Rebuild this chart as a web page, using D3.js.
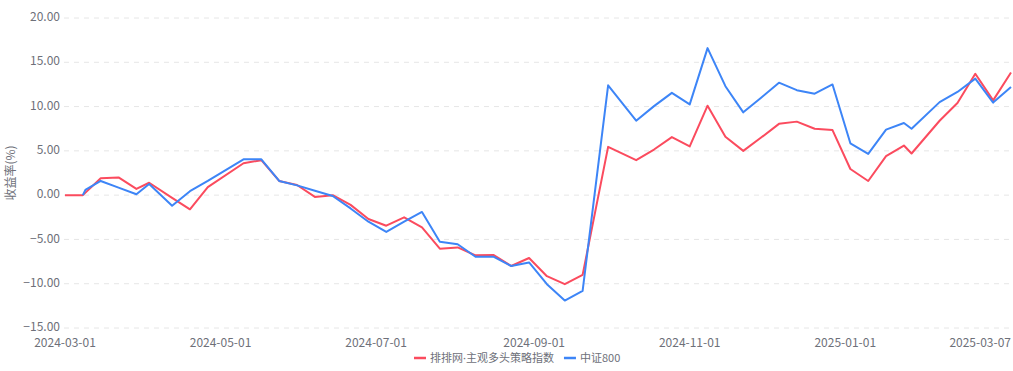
<!doctype html>
<html>
	<head>
		<meta charset="utf-8">
		<style type="text/css">
			body { margin: 0; background: #fff; }
			text { font-family: "Noto Sans CJK SC", "Noto Sans", sans-serif; }
		</style>
		<script src="https://d3js.org/d3.v7.min.js"></script>
	</head>
	<body>
		<svg width="1013" height="371"></svg>
		<script type="text/javascript">

			// weekly observation dates (last trading day of each week)
			var dates = [
				"2024-03-01", "2024-03-08", "2024-03-09", "2024-03-15", "2024-03-22", "2024-03-29",
				"2024-04-03", "2024-04-12", "2024-04-19", "2024-04-26", "2024-05-10", "2024-05-17",
				"2024-05-24", "2024-05-31", "2024-06-07", "2024-06-14", "2024-06-21", "2024-06-28",
				"2024-07-05", "2024-07-12", "2024-07-19", "2024-07-26", "2024-08-02", "2024-08-09",
				"2024-08-16", "2024-08-23", "2024-08-30", "2024-09-06", "2024-09-13", "2024-09-20",
				"2024-09-30", "2024-10-11", "2024-10-18", "2024-10-25", "2024-11-01", "2024-11-08",
				"2024-11-15", "2024-11-22", "2024-11-29", "2024-12-06", "2024-12-13", "2024-12-20",
				"2024-12-27", "2025-01-03", "2025-01-10", "2025-01-17", "2025-01-24", "2025-01-27",
				"2025-02-07", "2025-02-14", "2025-02-21", "2025-02-28", "2025-03-07"
			];

			// 排排网·主观多头策略指数 (%)
			var strategyIndex = [
				0, 0, null, 1.9, 2.0, 0.7,
				1.4, -0.3, -1.6, 0.9, 3.6, 3.95,
				1.6, 1.15, -0.2, 0.0, -1.1, -2.7,
				-3.45, -2.5, -3.65, -6.05, -5.9, -6.8,
				-6.75, -8.0, -7.1, -9.15, -10.05, -9.0,
				5.45, 3.95, 5.15, 6.55, 5.5, 10.1,
				6.6, 5.0, 6.5, 8.05, 8.3, 7.5,
				7.35, 2.95, 1.6, 4.4, 5.6, 4.7,
				8.4, 10.4, 13.7, 10.7, 13.85
			];

			// 中证800 (%)
			var csi800 = [
				null, 0, 0.6, 1.6, 0.85, 0.1,
				1.25, -1.2, 0.45, 1.6, 4.05, 4.05,
				1.6, 1.1, 0.5, -0.1, -1.5, -3.0,
				-4.15, -3.0, -1.9, -5.25, -5.55, -6.95,
				-6.95, -8.0, -7.6, -10.05, -11.9, -10.8,
				12.4, 8.4, 10.05, 11.55, 10.25, 16.6,
				12.3, 9.35, 11.0, 12.7, 11.85, 11.45,
				12.5, 5.85, 4.65, 7.4, 8.15, 7.5,
				10.5, 11.65, 13.15, 10.45, 12.2
			];

			var seriesNames = [["排排网", "·", "主观多头策略指数"], ["中证800"]];
			var seriesColors = ["#fb4b5e", "#3d85f7"];
			var yTicks = [-15, -10, -5, 0, 5, 10, 15, 20];
			var xTickLabels = ["2024-03-01", "2024-05-01", "2024-07-01", "2024-09-01", "2024-11-01", "2025-01-01", "2025-03-07"];

			var svg = d3.select("svg");
			var parse = d3.timeParse("%Y-%m-%d");
			var xDates = dates.map(parse);

			var x = d3.scaleTime()
				.domain([xDates[0], xDates[xDates.length - 1]])
				.range([65, 1011]);

			var y = d3.scaleLinear()
				.domain([-15, 20])
				.range([328, 18]);

			// grid + y labels
			var yAxis = svg.append("g");
			yAxis.selectAll("line")
				.data(yTicks).enter()
				.append("line")
					.attr("x1", 64).attr("x2", 1013)
					.attr("y1", (d) => y(d)).attr("y2", (d) => y(d))
					.style("stroke", "#e6e6e6")
					.style("stroke-dasharray", "5,5");
			yAxis.selectAll("text")
				.data(yTicks).enter()
				.append("text")
					.attr("x", 60)
					.attr("y", (d) => y(d) - 1)
					.attr("dy", "0.35em")
					.attr("text-anchor", "end")
					.style("font-size", "12px")
					.style("fill", "#6e7079")
					.text((d) => d3.format(".2f")(d));

			svg.append("text")
				.attr("transform", "translate(11," + y(2.5) + ") rotate(-90)")
				.attr("text-anchor", "middle")
				.attr("dy", "0.35em")
				.style("font-size", "12px")
				.style("fill", "#6e7079")
				.text("收益率(%)");

			// x labels
			svg.append("g").selectAll("text")
				.data(xTickLabels).enter()
				.append("text")
					.attr("x", (d) => x(parse(d)))
					.attr("y", 343)
					.attr("dy", "0.35em")
					.attr("text-anchor", (d, i) => i == xTickLabels.length - 1 ? "end" : "middle")
					.style("font-size", "12px")
					.style("fill", "#6e7079")
					.text((d) => d);

			// lines
			var line = d3.line()
				.x((d) => x(d.date))
				.y((d) => y(d.value));

			[strategyIndex, csi800].forEach(function(values, i) {
				var pts = values
					.map((v, j) => ({ date: xDates[j], value: v }))
					.filter((p) => p.value !== null);
				svg.append("path")
					.datum(pts)
					.attr("d", line)
					.style("fill", "none")
					.style("stroke", seriesColors[i])
					.style("stroke-width", 2)
					.style("stroke-linejoin", "round");
			});

			// legend
			var legend = svg.append("g").attr("transform", "translate(0,358)");
			var lx = 414;
			seriesNames.forEach(function(parts, i) {
				legend.append("line")
					.attr("x1", lx).attr("x2", lx + 12)
					.attr("y1", 0).attr("y2", 0)
					.style("stroke", seriesColors[i])
					.style("stroke-width", 2.5);
				var t = legend.append("text")
					.attr("x", lx + 16)
					.attr("dy", "0.35em")
					.style("font-size", "11px")
					.style("fill", "#6e7079");
				parts.forEach(function(p) {
					// narrow middle dot, as in the original
					t.append("tspan")
						.style("font-family", p == "·" ? "'Noto Sans', sans-serif" : null)
						.text(p);
				});
				lx += 16 + t.node().getComputedTextLength() + 10;
			});
		</script>
	</body>
</html>
